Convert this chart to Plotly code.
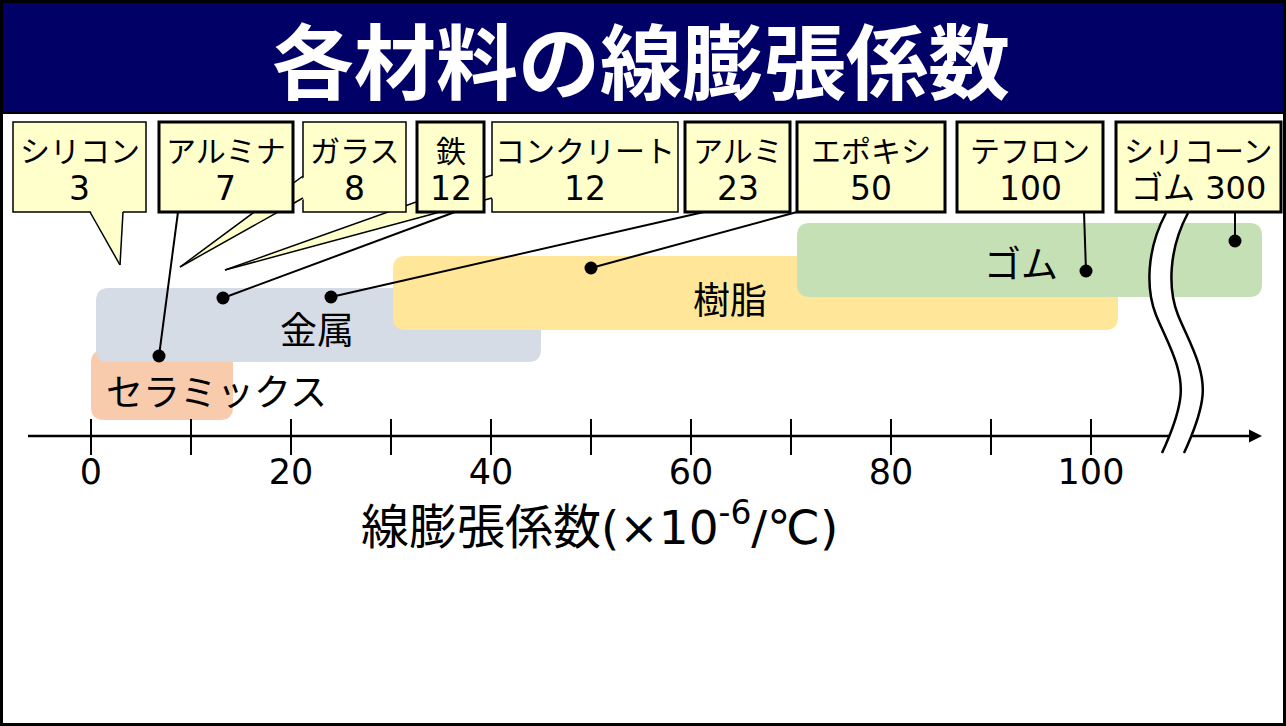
import plotly.graph_objects as go

W, H = 1286, 726
XMIN, XMAX = -9.1, 119.5

# ---------------- data ----------------
title = "各材料の線膨張係数"
axis_title_jp = "線膨張係数"
axis_title_unit = "(×10<sup>-6</sup>/℃)"
materials = ["シリコン", "アルミナ", "ガラス", "鉄", "コンクリート", "アルミ", "エポキシ", "テフロン", "シリコーンゴム"]
cte_values = [3, 7, 8, 12, 12, 23, 50, 100, 300]
# axis position each callout points at (300 sits past the axis break)
marker_x = [2.9, 6.8, 8.9, 13.2, 13.4, 24.0, 50.0, 99.5, 114.4]
groups = ["セラミックス", "金属", "樹脂", "ゴム"]
group_lo = [0.0, 0.5, 30.2, 70.6]
group_hi = [14.2, 45.0, 102.7, 117.1]
tick_vals = [0, 20, 40, 60, 80, 100]
tick_text = ["0", "20", "40", "60", "80", "100"]
minor_tick_vals = [10, 30, 50, 70, 90]

# ---------------- layout / style ----------------
group_colors = ["#F8CBAD", "#D6DCE5", "#FFE699", "#C5E0B4"]
group_rows = [(350, 420), (288, 362), (256, 330), (223, 297)]
group_label_px = [(216, 390), (317, 328), (730, 298), (1021, 262)]

box_x = [(13, 146), (159, 293), (303, 406), (417, 484), (492, 678),
         (685, 790), (797, 945), (957, 1103), (1116, 1281)]
box_thick = [False, True, False, True, False, True, True, True, True]
pointer = ["tail", "line", "wedge", "line", "wedge", "line", "line", "line", "line"]
marker_y = [265, 356, 267, 298, 270, 297, 268, 271, 241]
line_start_px = [None, 178, None, 455, None, 704, 797, 1084, 1235]
wedge_attach = {2: (303, 176, 198), 4: (492, 175, 198)}
tail_base = {0: (90, 123)}
BOX_TOP, BOX_BOT = 122, 212
BOX_FILL = "#FFFFCC"
AXIS_Y = 436
axis_start, axis_end = -6.3, 117.1

JP = "Noto Sans CJK JP"
NUM = "DejaVu Sans"


def dx(px):
    return XMIN + px * (XMAX - XMIN) / W


def pt(px, y):
    return f"{dx(px):.3f},{y:.2f}"


def ptv(v, y):
    return f"{v:.3f},{y:.2f}"


shapes = []
annotations = []

# group bands (rounded rectangles, data x range)
R = 13
for lo, hi, (y0, y1), col in zip(group_lo, group_hi, group_rows, group_colors):
    rx = R * (XMAX - XMIN) / W
    p = (f"M {ptv(lo + rx, y0)} L {ptv(hi - rx, y0)} Q {ptv(hi, y0)} {ptv(hi, y0 + R)} "
         f"L {ptv(hi, y1 - R)} Q {ptv(hi, y1)} {ptv(hi - rx, y1)} "
         f"L {ptv(lo + rx, y1)} Q {ptv(lo, y1)} {ptv(lo, y1 - R)} "
         f"L {ptv(lo, y0 + R)} Q {ptv(lo, y0)} {ptv(lo + rx, y0)} Z")
    shapes.append(dict(type="path", path=p, xref="x", yref="y", fillcolor=col,
                       line=dict(width=0), layer="below"))

for g, (cx, cy) in zip(groups, group_label_px):
    annotations.append(dict(text=g, x=cx / W, y=cy, xref="paper", yref="y", showarrow=False,
                            font=dict(family=JP, size=37, color="black"),
                            xanchor="center", yanchor="middle"))

# axis line + arrow head
shapes.append(dict(type="line", xref="x", yref="y", x0=axis_start, x1=axis_end - 1.2,
                   y0=AXIS_Y, y1=AXIS_Y, line=dict(color="black", width=2.5)))
shapes.append(dict(type="path", xref="x", yref="y",
                   path=f"M {ptv(axis_end - 1.3, AXIS_Y - 6.5)} L {ptv(axis_end, AXIS_Y)} L {ptv(axis_end - 1.3, AXIS_Y + 6.5)} Z",
                   fillcolor="black", line=dict(width=0)))

# axis break
segs = [((1166, 213), (1146, 250), (1146, 290), (1156, 315)),
        ((1156, 315), (1166, 340), (1185, 370), (1180, 400)),
        ((1180, 400), (1177, 420), (1168, 440), (1162, 453))]
OFF = 22


def curve(off):
    s = f"M {pt(segs[0][0][0] + off, segs[0][0][1])}"
    for a, b, c, d in segs:
        s += f" C {pt(b[0] + off, b[1])} {pt(c[0] + off, c[1])} {pt(d[0] + off, d[1])}"
    return s


fill = curve(0)
fill += f" L {pt(segs[-1][3][0] + OFF, segs[-1][3][1])}"
for a, b, c, d in reversed(segs):
    fill += f" C {pt(c[0] + OFF, c[1])} {pt(b[0] + OFF, b[1])} {pt(a[0] + OFF, a[1])}"
fill += " Z"
shapes.append(dict(type="path", xref="x", yref="y", path=fill, fillcolor="white", line=dict(width=0)))
for off in (0, OFF):
    shapes.append(dict(type="path", xref="x", yref="y", path=curve(off),
                       line=dict(color="black", width=2.5)))

# title bar
shapes.append(dict(type="rect", xref="paper", yref="y", x0=0, x1=1, y0=0, y1=113,
                   fillcolor="#000066", line=dict(color="black", width=2)))
annotations.append(dict(text=f"<b>{title}</b>", x=641 / W, y=57, xref="paper", yref="y",
                        showarrow=False, font=dict(family=JP, size=82, color="white"),
                        xanchor="center", yanchor="middle"))


def box_shape(i):
    x0, x1 = box_x[i]
    return dict(type="rect", xref="x", yref="y", x0=dx(x0), x1=dx(x1), y0=BOX_TOP, y1=BOX_BOT,
                fillcolor=BOX_FILL, line=dict(color="black", width=3 if box_thick[i] else 1.5))


def wedge_shapes(i):
    ax, ya, yb = wedge_attach[i]
    tx, ty = marker_x[i], marker_y[i]
    out = [dict(type="path", xref="x", yref="y",
                path=f"M {pt(ax + 3, ya)} L {pt(ax + 3, yb)} L {ptv(tx, ty)} Z",
                fillcolor=BOX_FILL, line=dict(width=0))]
    for yy in (ya, yb):
        out.append(dict(type="path", xref="x", yref="y",
                        path=f"M {pt(ax, yy)} L {ptv(tx, ty)}",
                        line=dict(color="black", width=1.5)))
    return out


def tail_shapes(i):
    a, b = tail_base[i]
    tx, ty = marker_x[i], marker_y[i]
    out = [dict(type="path", xref="x", yref="y",
                path=f"M {pt(a, BOX_BOT - 2)} L {pt(b, BOX_BOT - 2)} L {ptv(tx, ty)} Z",
                fillcolor=BOX_FILL, line=dict(width=0))]
    for xx in (a, b):
        out.append(dict(type="path", xref="x", yref="y",
                        path=f"M {pt(xx, BOX_BOT)} L {ptv(tx, ty)}",
                        line=dict(color="black", width=1.5)))
    return out


order = [4, 2, 0, 1, 3, 5, 6, 7, 8]
for i in order:
    shapes.append(box_shape(i))
    if pointer[i] == "wedge":
        shapes.extend(wedge_shapes(i))
    elif pointer[i] == "tail":
        shapes.extend(tail_shapes(i))

# callout texts
for i, (name, val) in enumerate(zip(materials, cte_values)):
    cx = (box_x[i][0] + box_x[i][1]) / 2 / W
    if len(name) > 6:
        line1, line2 = name[:5], f"{name[5:]} {val}"
        fam2, size2 = f"{NUM}, {JP}", 32
    else:
        line1, line2 = name, str(val)
        fam2, size2 = NUM, 33
    annotations.append(dict(text=line1, x=cx, y=149, xref="paper", yref="y", showarrow=False,
                            font=dict(family=JP, size=30, color="black"),
                            xanchor="center", yanchor="middle"))
    annotations.append(dict(text=line2, x=cx, y=188, xref="paper", yref="y", showarrow=False,
                            font=dict(family=fam2, size=size2, color="black"),
                            xanchor="center", yanchor="middle"))

# axis title (Japanese part + Latin unit part)
annotations.append(dict(
    text=f"{axis_title_jp}<span style='font-family:DejaVu Sans;font-size:47px'>{axis_title_unit}</span>",
    x=599 / W, y=523, xref="paper", yref="y", showarrow=False,
    font=dict(family=JP, size=48, color="black"), xanchor="center", yanchor="middle"))

# frame
shapes.append(dict(type="rect", xref="paper", yref="paper", x0=0, x1=1, y0=0, y1=1,
                   line=dict(color="black", width=6), fillcolor="rgba(0,0,0,0)"))

fig = go.Figure()
line_idx = [i for i, p in enumerate(pointer) if p == "line"]
for i in line_idx:
    fig.add_trace(go.Scatter(x=[dx(line_start_px[i]), marker_x[i]], y=[BOX_BOT, marker_y[i]],
                             mode="lines", line=dict(color="black", width=2),
                             showlegend=False, hoverinfo="skip"))
fig.add_trace(go.Scatter(x=[marker_x[i] for i in line_idx], y=[marker_y[i] for i in line_idx],
                         mode="markers", marker=dict(color="black", size=13),
                         text=[f"{materials[i]} {cte_values[i]}" for i in line_idx],
                         showlegend=False, hoverinfo="text"))
fig.add_trace(go.Scatter(x=[None], y=[None], xaxis="x2", showlegend=False, hoverinfo="skip"))

pos = 1 - AXIS_Y / H
tick_common = dict(showline=False, showgrid=False, zeroline=False, tickwidth=2, tickcolor="black",
                   tickmode="array", tickvals=tick_vals, fixedrange=True,
                   range=[XMIN, XMAX], anchor="free", position=pos)
fig.update_layout(
    width=W, height=H, margin=dict(l=0, r=0, t=0, b=0),
    paper_bgcolor="white", plot_bgcolor="white",
    # lower tick halves (no labels)
    xaxis=dict(**tick_common, ticks="outside", ticklen=18, showticklabels=False,
               minor=dict(tickmode="array", tickvals=minor_tick_vals, ticks="outside",
                          ticklen=18, tickwidth=2, tickcolor="black", showgrid=False)),
    # upper tick halves + tick labels
    xaxis2=dict(**tick_common, overlaying="x", ticks="inside", ticklen=17,
                ticktext=tick_text, showticklabels=True, ticklabelstandoff=12,
                tickfont=dict(family=NUM, size=35, color="black"),
                minor=dict(tickmode="array", tickvals=minor_tick_vals, ticks="inside",
                           ticklen=17, tickwidth=2, tickcolor="black", showgrid=False)),
    yaxis=dict(range=[H, 0], visible=False, domain=[0, 1], fixedrange=True),
    shapes=shapes, annotations=annotations, showlegend=False,
)
fig.write_html("out.html")
